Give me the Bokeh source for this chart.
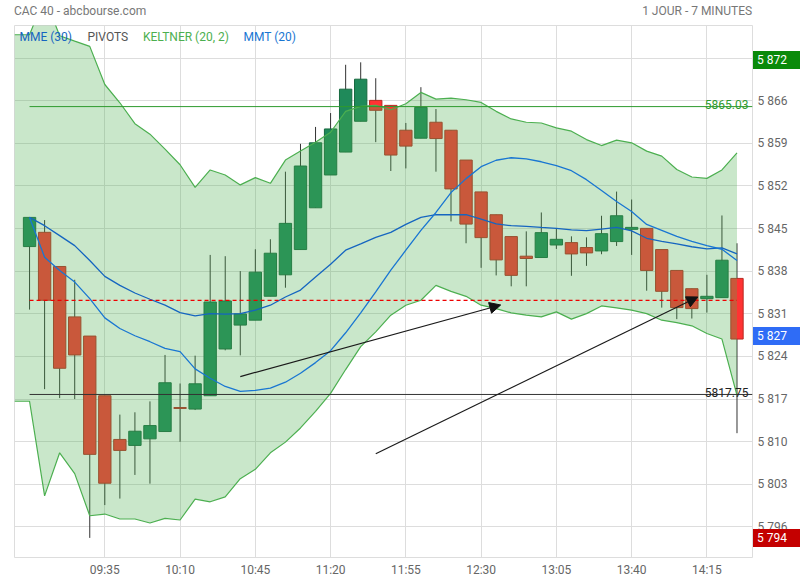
from bokeh.plotting import figure
from bokeh.layouts import column
from bokeh.models import (Range1d, FixedTicker, Label, Arrow, NormalHead, ColumnDataSource,
                          LinearAxis, Div)
from bokeh.embed import file_html
from bokeh.resources import INLINE

# ---------------- data ----------------
times = ["09:00", "09:07", "09:14", "09:21", "09:28", "09:35", "09:42", "09:49", "09:56", "10:03",
         "10:10", "10:17", "10:24", "10:31", "10:38", "10:45", "10:52", "10:59", "11:06", "11:13",
         "11:20", "11:27", "11:34", "11:41", "11:48", "11:55", "12:02", "12:09", "12:16", "12:23",
         "12:30", "12:37", "12:44", "12:51", "12:58", "13:05", "13:12", "13:19", "13:26", "13:33",
         "13:40", "13:47", "13:54", "14:01", "14:08", "14:15", "14:22", "14:29"]
tick_labels = ["09:35", "10:10", "10:45", "11:20", "11:55", "12:30", "13:05", "13:40", "14:15"]

opens = [5842.04, 5844.38, 5838.77, 5830.49, 5827.34, 5817.54, 5810.36, 5809.38, 5810.46, 5811.66,
         5815.60, 5815.35, 5817.54, 5825.22, 5829.14, 5829.95, 5833.88, 5837.40, 5841.55, 5848.41,
         5853.80, 5857.56, 5862.62, 5866.05, 5865.23, 5861.15, 5859.84, 5862.46, 5861.15, 5856.25,
         5851.02, 5847.27, 5843.68, 5840.46, 5840.24, 5842.30, 5842.69, 5841.88, 5841.32, 5842.86,
         5844.87, 5845.03, 5841.55, 5838.12, 5835.12, 5833.48, 5833.65, 5836.81]
highs = [5846.90, 5846.39, 5838.77, 5836.59, 5827.34, 5817.54, 5814.44, 5814.82, 5816.61, 5824.24,
         5819.55, 5824.12, 5840.67, 5840.46, 5838.01, 5841.60, 5843.24, 5854.34, 5858.91, 5861.69,
         5863.97, 5871.90, 5872.30, 5869.69, 5865.23, 5862.34, 5868.22, 5864.63, 5861.15, 5856.25,
         5851.02, 5847.27, 5843.68, 5844.54, 5847.64, 5845.08, 5843.72, 5843.56, 5847.10, 5851.07,
         5849.77, 5845.03, 5841.55, 5838.12, 5835.12, 5837.40, 5847.15, 5842.58]
lows = [5831.69, 5818.62, 5817.15, 5816.99, 5794.19, 5799.58, 5800.65, 5804.53, 5803.10, 5811.66,
        5809.97, 5815.19, 5817.54, 5825.00, 5824.17, 5829.95, 5833.88, 5835.28, 5841.55, 5848.41,
        5853.80, 5857.56, 5862.62, 5859.19, 5854.45, 5854.88, 5859.84, 5854.34, 5846.17, 5842.58,
        5838.55, 5837.30, 5835.51, 5835.51, 5840.24, 5841.65, 5837.24, 5838.87, 5840.78, 5842.14,
        5840.67, 5834.79, 5832.01, 5830.12, 5830.22, 5831.20, 5833.65, 5811.39]
closes = [5846.83, 5833.22, 5822.05, 5824.24, 5807.91, 5803.17, 5808.56, 5811.71, 5812.64, 5819.67,
          5815.45, 5819.50, 5832.94, 5833.11, 5830.98, 5837.84, 5840.95, 5845.85, 5855.27, 5859.08,
          5861.36, 5867.89, 5869.53, 5864.42, 5857.07, 5858.54, 5864.91, 5859.78, 5851.51, 5845.73,
          5843.51, 5839.85, 5837.31, 5840.08, 5844.33, 5843.23, 5840.83, 5841.00, 5844.16, 5847.10,
          5845.19, 5838.12, 5834.69, 5832.01, 5831.85, 5833.87, 5839.80, 5826.85]

mme30 = [5846.83, 5845.47, 5843.84, 5842.20, 5839.75, 5837.14, 5835.67, 5834.41, 5833.39, 5832.41,
         5831.20, 5830.66, 5831.03, 5830.94, 5831.03, 5831.59, 5832.41, 5833.76, 5834.90, 5837.03,
         5839.15, 5841.44, 5842.47, 5843.56, 5844.38, 5845.68, 5846.83, 5847.27, 5847.27, 5847.27,
         5846.55, 5845.76, 5845.47, 5845.36, 5845.19, 5845.03, 5844.78, 5844.65, 5844.92, 5845.19,
         5844.62, 5843.40, 5842.91, 5842.50, 5842.01, 5841.65, 5841.81, 5840.83]
mmt20 = [5846.83, 5840.29, 5838.12, 5836.21, 5833.48, 5830.33, 5828.58, 5827.39, 5826.41, 5825.32,
         5824.78, 5821.95, 5820.42, 5819.06, 5818.25, 5818.41, 5818.78, 5819.76, 5821.23, 5822.98,
         5824.94, 5827.88, 5831.15, 5834.58, 5838.17, 5841.44, 5844.70, 5847.64, 5850.91, 5853.20,
         5855.16, 5856.22, 5856.63, 5856.46, 5855.97, 5855.32, 5854.50, 5853.03, 5851.24, 5849.44,
         5847.81, 5845.68, 5844.70, 5843.72, 5842.91, 5842.20, 5841.60, 5839.75]
kelt_up = [5876.83, 5883.00, 5876.67, 5875.78, 5874.92, 5868.66, 5865.66, 5862.23, 5860.50, 5858.05,
           5855.48, 5851.77, 5854.62, 5853.80, 5852.17, 5853.36, 5852.43, 5856.25, 5857.72, 5859.19,
           5860.82, 5864.25, 5865.07, 5865.23, 5864.51, 5865.49, 5867.36, 5866.26, 5866.42, 5866.15,
           5865.72, 5864.25, 5863.00, 5862.46, 5862.34, 5861.53, 5860.99, 5859.61, 5858.63, 5859.52,
           5859.08, 5857.72, 5856.90, 5854.71, 5853.47, 5853.24, 5854.62, 5857.44]
kelt_lo = [5816.63, 5801.10, 5808.17, 5804.74, 5797.83, 5798.11, 5797.29, 5797.29, 5796.64, 5797.39,
           5797.13, 5800.56, 5800.12, 5800.93, 5803.92, 5805.46, 5808.17, 5809.92, 5812.25, 5814.98,
           5817.92, 5821.84, 5825.60, 5828.04, 5830.77, 5832.41, 5833.22, 5835.67, 5834.69, 5833.87,
           5832.41, 5831.85, 5831.15, 5830.77, 5830.49, 5831.31, 5830.12, 5831.03, 5832.29, 5831.96,
           5831.59, 5831.03, 5829.95, 5829.56, 5829.02, 5827.77, 5826.85, 5817.60]

pivot_r1 = 5865.03
pivot_p = 5833.2
pivot_s1 = 5817.75
day_high = 5872
day_low = 5794
last_price = 5827

# user trend lines: (start index, start value, end index, end value)
trend_x0 = [14.0, 23.0]
trend_y0 = [5820.69, 5808.0]
trend_x1 = [31.3, 44.4]
trend_y1 = [5832.45, 5833.76]

y_ticks = [5796, 5803, 5810, 5817, 5824, 5831, 5838, 5845, 5852, 5859, 5866, 5873]

header_left = "CAC 40 - abcbourse.com"
header_right = "1 JOUR - 7 MINUTES"

# ---------------- figure ----------------
X0, X1 = -1.0, 48.03
Y0, Y1 = 5790.97, 5878.35
FONT = "Roboto"
FS = "12px"
W, H = 800, 580
B_LEFT, B_RIGHT, B_TOP, B_BOTTOM = 14, 48, 22, 23

p = figure(width=W, height=H, output_backend="svg", toolbar_location=None,
           x_range=Range1d(X0, X1), y_range=Range1d(Y0, Y1),
           y_axis_location="right",
           min_border_left=B_LEFT, min_border_right=B_RIGHT,
           min_border_top=B_TOP, min_border_bottom=B_BOTTOM)
p.outline_line_color = "#dddddd"
p.background_fill_color = "white"
p.border_fill_color = "white"

idx = list(range(len(times)))
ticks = [times.index(t) for t in tick_labels]

bottom_axis = p.below[0]
right_axis = p.right[0]

# header texts carried by an axis above the frame (centred on the text positions)
hdr_pos = [3.36, 44.35]
top_axis = LinearAxis(ticker=FixedTicker(ticks=hdr_pos),
                      major_label_overrides={hdr_pos[0]: header_left, hdr_pos[1]: header_right})
p.add_layout(top_axis, "above")

bottom_axis.ticker = FixedTicker(ticks=ticks)
bottom_axis.major_label_overrides = {t: lab for t, lab in zip(ticks, tick_labels)}
right_axis.ticker = FixedTicker(ticks=y_ticks)
right_axis.major_label_overrides = {v: f"{v // 1000} {v % 1000:03d}" for v in y_ticks}
for ax in (bottom_axis, top_axis, right_axis):
    ax.axis_line_color = None
    ax.major_tick_line_color = None
    ax.minor_tick_line_color = None
    ax.major_tick_out = 0
    ax.major_tick_in = 0
    ax.major_label_text_font = FONT
    ax.major_label_text_font_size = FS
    ax.major_label_text_color = "#666666"
top_axis.major_label_text_color = "#777777"
top_axis.major_label_standoff = 8
bottom_axis.major_label_standoff = 5
right_axis.major_label_standoff = 5
p.xgrid.ticker = FixedTicker(ticks=ticks)
p.ygrid.ticker = FixedTicker(ticks=y_ticks)
p.grid.grid_line_color = "#dddddd"

# candles
inc = [c >= o for o, c in zip(opens, closes)]
src = ColumnDataSource(dict(
    x=idx, o=opens, h=highs, l=lows, c=closes,
    top=[max(o, c) for o, c in zip(opens, closes)],
    bot=[min(o, c) for o, c in zip(opens, closes)],
    fill=["#1f8a5a" if u else "#ff3333" for u in inc],
    edge=["#17693f" if u else "#b82a22" for u in inc],
))
p.segment(x0="x", y0="l", x1="x", y1="h", source=src, line_color="#333333", line_width=1)
p.vbar(x="x", top="top", bottom="bot", width=0.82, source=src,
       fill_color="fill", line_color="edge", line_width=1)

# Keltner band (drawn over candles, translucent)
bx = [X0] + idx
bu = [kelt_up[0]] + kelt_up
bl = [kelt_lo[0]] + kelt_lo
p.varea(x=bx, y1=bl, y2=bu, fill_color="#4caf50", fill_alpha=0.3)
p.line(bx, bu, line_color="#4caf50", line_width=1.2)
p.line(bx, bl, line_color="#4caf50", line_width=1.2)

# moving averages
p.line(idx, mme30, line_color="#1565c0", line_width=1.3)
p.line(idx, mmt20, line_color="#1976d2", line_width=1.3)

# pivots
p.line([0, X1], [pivot_r1, pivot_r1], line_color="#2e9a2e", line_width=1)
p.line([0, X1], [pivot_s1, pivot_s1], line_color="#333333", line_width=1)
p.line([0, idx[-1]], [pivot_p, pivot_p], line_color="#ee0000", line_width=1.1,
       line_dash="4 3")

p.add_layout(Label(x=X1, y=pivot_r1, text=f"{pivot_r1:.2f}", text_align="right",
                   text_baseline="alphabetic", x_offset=-4, y_offset=2, text_font=FONT,
                   text_font_size=FS, text_color="#2e9a2e"))
p.add_layout(Label(x=X1, y=pivot_s1, text=f"{pivot_s1:.2f}", text_align="right",
                   text_baseline="alphabetic", x_offset=-4, y_offset=2, text_font=FONT,
                   text_font_size=FS, text_color="#222222"))

# trend arrows
for xa, ya, xb, yb in zip(trend_x0, trend_y0, trend_x1, trend_y1):
    p.add_layout(Arrow(x_start=xa, y_start=ya, x_end=xb, y_end=yb, line_color="#1a1a1a",
                       line_width=1.2,
                       end=NormalHead(size=11, fill_color="#111111", line_color="#111111")))

# legend texts
for txt, off, col in [("MME (30)", 5, "#1565c0"), ("PIVOTS", 73, "#555555"),
                      ("KELTNER (20, 2)", 128.5, "#4caf50"), ("MMT (20)", 229, "#1976d2")]:
    p.add_layout(Label(x=X0, y=Y1, text=txt, text_align="left", text_baseline="alphabetic",
                       x_offset=off, y_offset=-11, text_font=FONT, text_font_size=FS,
                       text_color=col))

# price boxes over the right axis (outside the clipped frame, so HTML overlays)
frame_h = H - B_TOP - B_BOTTOM
frame_right = W - B_RIGHT
boxes = []
for val, bg in [(day_high, "#0a8a0a"), (last_price, "#2f6cf6"), (day_low, "#c40000")]:
    cy = B_TOP + (Y1 - val) * frame_h / (Y1 - Y0)
    boxes.append(Div(text=f"{val // 1000} {val % 1000:03d}", width=W - frame_right - 1, height=18,
                     styles={"position": "absolute", "left": f"{frame_right + 1}px",
                             "top": f"{cy - 9.5:.1f}px", "height": "18px",
                             "background-color": bg, "margin": "0",
                             "color": "white", "font-family": FONT, "font-size": FS,
                             "line-height": "18px", "padding": "0 0 0 4px",
                             "box-sizing": "border-box", "z-index": "10",
                             "overflow": "hidden", "white-space": "nowrap"}))

layout = column(p, *boxes, spacing=0)
open("out.html", "w").write(file_html(layout, INLINE))
